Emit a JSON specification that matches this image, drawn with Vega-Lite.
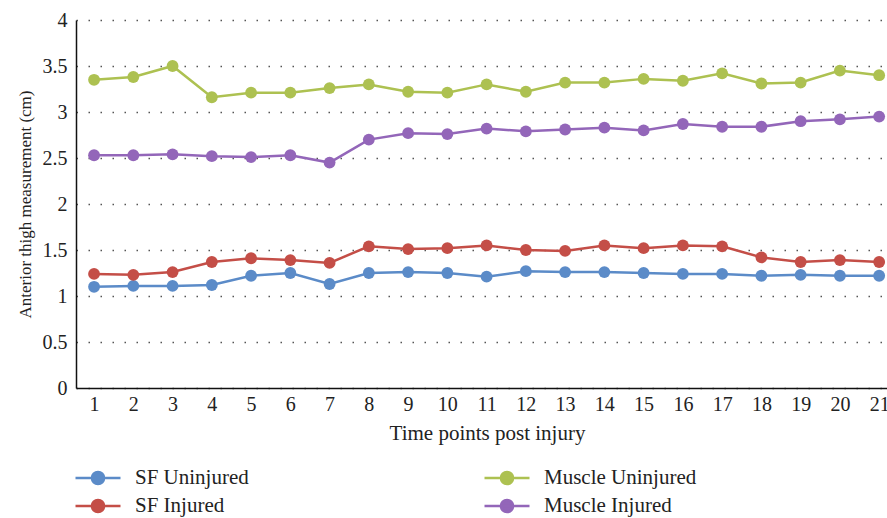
{
  "$schema": "https://vega.github.io/schema/vega-lite/v6.json",
  "width": 811,
  "height": 368,
  "padding": {"left": 76, "top": 20, "right": 0, "bottom": 130},
  "autosize": {"type": "none"},
  "background": "white",
  "config": {
    "view": {"stroke": null},
    "font": "Liberation Serif",
    "axis": {"labelFont": "Liberation Serif", "titleFont": "Liberation Serif", "labelFontSize": 20, "titleFontSize": 21, "labelColor": "#222", "titleColor": "#222", "titleFontWeight": "normal", "domainColor": "#111", "domainWidth": 1.5, "ticks": false}
  },
  "data": {"values": [
    {"t":1,"s":"SF Uninjured","v":1.10},{"t":2,"s":"SF Uninjured","v":1.11},{"t":3,"s":"SF Uninjured","v":1.11},{"t":4,"s":"SF Uninjured","v":1.12},{"t":5,"s":"SF Uninjured","v":1.22},{"t":6,"s":"SF Uninjured","v":1.25},{"t":7,"s":"SF Uninjured","v":1.13},{"t":8,"s":"SF Uninjured","v":1.25},{"t":9,"s":"SF Uninjured","v":1.26},{"t":10,"s":"SF Uninjured","v":1.25},{"t":11,"s":"SF Uninjured","v":1.21},{"t":12,"s":"SF Uninjured","v":1.27},{"t":13,"s":"SF Uninjured","v":1.26},{"t":14,"s":"SF Uninjured","v":1.26},{"t":15,"s":"SF Uninjured","v":1.25},{"t":16,"s":"SF Uninjured","v":1.24},{"t":17,"s":"SF Uninjured","v":1.24},{"t":18,"s":"SF Uninjured","v":1.22},{"t":19,"s":"SF Uninjured","v":1.23},{"t":20,"s":"SF Uninjured","v":1.22},{"t":21,"s":"SF Uninjured","v":1.22},
    {"t":1,"s":"SF Injured","v":1.24},{"t":2,"s":"SF Injured","v":1.23},{"t":3,"s":"SF Injured","v":1.26},{"t":4,"s":"SF Injured","v":1.37},{"t":5,"s":"SF Injured","v":1.41},{"t":6,"s":"SF Injured","v":1.39},{"t":7,"s":"SF Injured","v":1.36},{"t":8,"s":"SF Injured","v":1.54},{"t":9,"s":"SF Injured","v":1.51},{"t":10,"s":"SF Injured","v":1.52},{"t":11,"s":"SF Injured","v":1.55},{"t":12,"s":"SF Injured","v":1.50},{"t":13,"s":"SF Injured","v":1.49},{"t":14,"s":"SF Injured","v":1.55},{"t":15,"s":"SF Injured","v":1.52},{"t":16,"s":"SF Injured","v":1.55},{"t":17,"s":"SF Injured","v":1.54},{"t":18,"s":"SF Injured","v":1.42},{"t":19,"s":"SF Injured","v":1.37},{"t":20,"s":"SF Injured","v":1.39},{"t":21,"s":"SF Injured","v":1.37},
    {"t":1,"s":"Muscle Uninjured","v":3.35},{"t":2,"s":"Muscle Uninjured","v":3.38},{"t":3,"s":"Muscle Uninjured","v":3.50},{"t":4,"s":"Muscle Uninjured","v":3.16},{"t":5,"s":"Muscle Uninjured","v":3.21},{"t":6,"s":"Muscle Uninjured","v":3.21},{"t":7,"s":"Muscle Uninjured","v":3.26},{"t":8,"s":"Muscle Uninjured","v":3.30},{"t":9,"s":"Muscle Uninjured","v":3.22},{"t":10,"s":"Muscle Uninjured","v":3.21},{"t":11,"s":"Muscle Uninjured","v":3.30},{"t":12,"s":"Muscle Uninjured","v":3.22},{"t":13,"s":"Muscle Uninjured","v":3.32},{"t":14,"s":"Muscle Uninjured","v":3.32},{"t":15,"s":"Muscle Uninjured","v":3.36},{"t":16,"s":"Muscle Uninjured","v":3.34},{"t":17,"s":"Muscle Uninjured","v":3.42},{"t":18,"s":"Muscle Uninjured","v":3.31},{"t":19,"s":"Muscle Uninjured","v":3.32},{"t":20,"s":"Muscle Uninjured","v":3.45},{"t":21,"s":"Muscle Uninjured","v":3.40},
    {"t":1,"s":"Muscle Injured","v":2.53},{"t":2,"s":"Muscle Injured","v":2.53},{"t":3,"s":"Muscle Injured","v":2.54},{"t":4,"s":"Muscle Injured","v":2.52},{"t":5,"s":"Muscle Injured","v":2.51},{"t":6,"s":"Muscle Injured","v":2.53},{"t":7,"s":"Muscle Injured","v":2.45},{"t":8,"s":"Muscle Injured","v":2.70},{"t":9,"s":"Muscle Injured","v":2.77},{"t":10,"s":"Muscle Injured","v":2.76},{"t":11,"s":"Muscle Injured","v":2.82},{"t":12,"s":"Muscle Injured","v":2.79},{"t":13,"s":"Muscle Injured","v":2.81},{"t":14,"s":"Muscle Injured","v":2.83},{"t":15,"s":"Muscle Injured","v":2.80},{"t":16,"s":"Muscle Injured","v":2.87},{"t":17,"s":"Muscle Injured","v":2.84},{"t":18,"s":"Muscle Injured","v":2.84},{"t":19,"s":"Muscle Injured","v":2.90},{"t":20,"s":"Muscle Injured","v":2.92},{"t":21,"s":"Muscle Injured","v":2.95}
  ]},
  "mark": {"type": "line", "strokeWidth": 2.5, "point": {"filled": true, "size": 140, "opacity": 1}},
  "encoding": {
    "x": {"field": "t", "type": "quantitative", "scale": {"domain": [0.54, 21.2], "nice": false, "zero": false},
      "axis": {"values": [1,2,3,4,5,6,7,8,9,10,11,12,13,14,15,16,17,18,19,20,21], "grid": false, "title": "Time points post injury", "labelPadding": 6, "titlePadding": 8, "titleX": 411, "format": "d"}},
    "y": {"field": "v", "type": "quantitative", "scale": {"domain": [0, 4], "nice": false},
      "axis": {"values": [0,0.5,1,1.5,2,2.5,3,3.5,4], "format": "~g", "grid": true, "gridDash": [1.5, 10.5], "gridColor": "#555", "gridWidth": 1.5, "title": "Anterior thigh measurement (cm)", "titleFontSize": 17, "labelPadding": 9, "titlePadding": 8}},
    "color": {"field": "s", "type": "nominal",
      "scale": {"domain": ["SF Uninjured", "Muscle Uninjured", "SF Injured", "Muscle Injured"], "range": ["#5b8bc8", "#adc151", "#c44e47", "#9366b9"]},
      "legend": {"title": null, "orient": "none", "legendX": -2, "legendY": 444, "direction": "horizontal", "columns": 2, "columnPadding": 234, "rowPadding": 0, "clipHeight": 28,
        "symbolType": "M-1,0L1,0M-0.27,0A0.27,0.27,0,1,1,0.27,0A0.27,0.27,0,1,1,-0.27,0Z", "symbolSize": 2025, "symbolStrokeWidth": 2.5,
        "labelFont": "Liberation Serif", "labelFontSize": 21, "labelColor": "#222", "labelOffset": 13, "labelLimit": 300,
        "encode": {"symbols": {"update": {"fill": {"scale": "color", "field": "value"}, "fillOpacity": {"value": 1}}}}}}
  }
}
